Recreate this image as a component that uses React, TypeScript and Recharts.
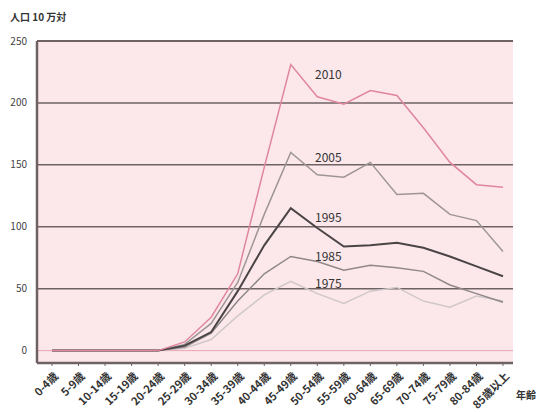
import { LineChart, Line, XAxis, YAxis, CartesianGrid, ReferenceLine, ReferenceDot } from "recharts";

// 年齢階級別の人口10万対（年次別）
const ageGroups = [
  "0-4歳", "5-9歳", "10-14歳", "15-19歳", "20-24歳", "25-29歳", "30-34歳", "35-39歳", "40-44歳",
  "45-49歳", "50-54歳", "55-59歳", "60-64歳", "65-69歳", "70-74歳", "75-79歳", "80-84歳", "85歳以上",
];
const y2010 = [0, 0, 0, 0, 0, 7, 27, 62, 148, 231, 205, 199, 210, 206, 180, 152, 134, 132];
const y2005 = [0, 0, 0, 0, 0, 5, 22, 55, 110, 160, 142, 140, 152, 126, 127, 110, 105, 80];
const y1995 = [0, 0, 0, 0, 0, 4, 15, 48, 85, 115, 99, 84, 85, 87, 83, 76, 68, 60];
const y1985 = [0, 0, 0, 0, 0, 3, 14, 40, 62, 76, 72, 65, 69, 67, 64, 53, 46, 39];
const y1975 = [0, 0, 0, 0, 0, 2, 9, 28, 45, 56, 46, 38, 48, 51, 40, 35, 44, 40];
const yTicks = [0, 50, 100, 150, 200, 250];
const gridValues = [50, 100, 150, 200];

// where each year's label sits (category, value)
const yearLabels = [
  { name: "2010", at: "50-54歳", v: 223 },
  { name: "2005", at: "50-54歳", v: 156 },
  { name: "1995", at: "50-54歳", v: 107 },
  { name: "1985", at: "50-54歳", v: 76 },
  { name: "1975", at: "50-54歳", v: 54 },
];

const data = ageGroups.map((g, i) => ({
  age: g,
  y2010: y2010[i],
  y2005: y2005[i],
  y1995: y1995[i],
  y1985: y1985[i],
  y1975: y1975[i],
}));

const FONT = "'Noto Sans CJK JP', 'Noto Sans', sans-serif";
const FRAME = "#6e6264";

function AgeTick(props: any) {
  const { x, y, payload } = props;
  return (
    <text
      x={x + 7}
      y={y + 9}
      transform={`rotate(-45, ${x + 7}, ${y + 9})`}
      textAnchor="end"
      fontSize={11}
      fontWeight={700}
      fill="#333"
      fontFamily={FONT}
    >
      {payload.value}
    </text>
  );
}

export default function App() {
  return (
    <div style={{ position: "absolute", left: 0, top: 0, width: 539, height: 412, background: "#fff", overflow: "hidden" }}>
      <div style={{ position: "absolute", left: 10, top: 9, fontSize: 10, fontWeight: 700, color: "#333", fontFamily: FONT }}>
        人口 10 万対
      </div>
      <div style={{ position: "absolute", left: 516, top: 387, fontSize: 10, fontWeight: 700, color: "#333", fontFamily: FONT, whiteSpace: "nowrap" }}>
        年齢
      </div>
      <LineChart width={539} height={412} data={data} margin={{ top: 41, right: 26, bottom: 0, left: 0 }}>
        <CartesianGrid horizontal={false} vertical={false} fill="#fce8eb" />
        <XAxis
          dataKey="age"
          interval={0}
          padding={{ left: 15, right: 10 }}
          tick={<AgeTick />}
          tickSize={3}
          tickLine={{ stroke: FRAME }}
          axisLine={{ stroke: FRAME, strokeWidth: 2.5 }}
          height={49}
        />
        <YAxis
          domain={[-10, 250]}
          ticks={yTicks}
          width={37}
          tickLine={false}
          axisLine={{ stroke: FRAME, strokeWidth: 2.5 }}
          tick={{ fontSize: 10, fill: "#444", fontFamily: FONT }}
          tickMargin={4}
        />
        <YAxis
          yAxisId="r"
          orientation="right"
          width={0}
          tick={false}
          tickLine={false}
          axisLine={{ stroke: FRAME, strokeWidth: 2 }}
        />
        {gridValues.map((v) => (
          <ReferenceLine key={v} y={v} stroke={FRAME} strokeWidth={1.5} />
        ))}
        <ReferenceLine y={250} stroke={FRAME} strokeWidth={2} />
        <ReferenceLine y={0} stroke="#e9a5b4" strokeWidth={1} />
        <Line dataKey="y1975" stroke="#cfc7c9" strokeWidth={1.5} dot={false} isAnimationActive={false} />
        <Line dataKey="y1985" stroke="#8f8789" strokeWidth={1.5} dot={false} isAnimationActive={false} />
        <Line dataKey="y2005" stroke="#9e9597" strokeWidth={1.5} dot={false} isAnimationActive={false} />
        <Line dataKey="y1995" stroke="#4a4446" strokeWidth={2} dot={false} isAnimationActive={false} />
        <Line dataKey="y2010" stroke="#e0869c" strokeWidth={1.5} dot={false} isAnimationActive={false} />
        {yearLabels.map((l) => (
          <ReferenceDot
            key={l.name}
            x={l.at}
            y={l.v}
            r={0}
            label={{ value: l.name, position: "center", dx: 11, fontSize: 12, fill: "#333", fontFamily: FONT }}
          />
        ))}
      </LineChart>
    </div>
  );
}
